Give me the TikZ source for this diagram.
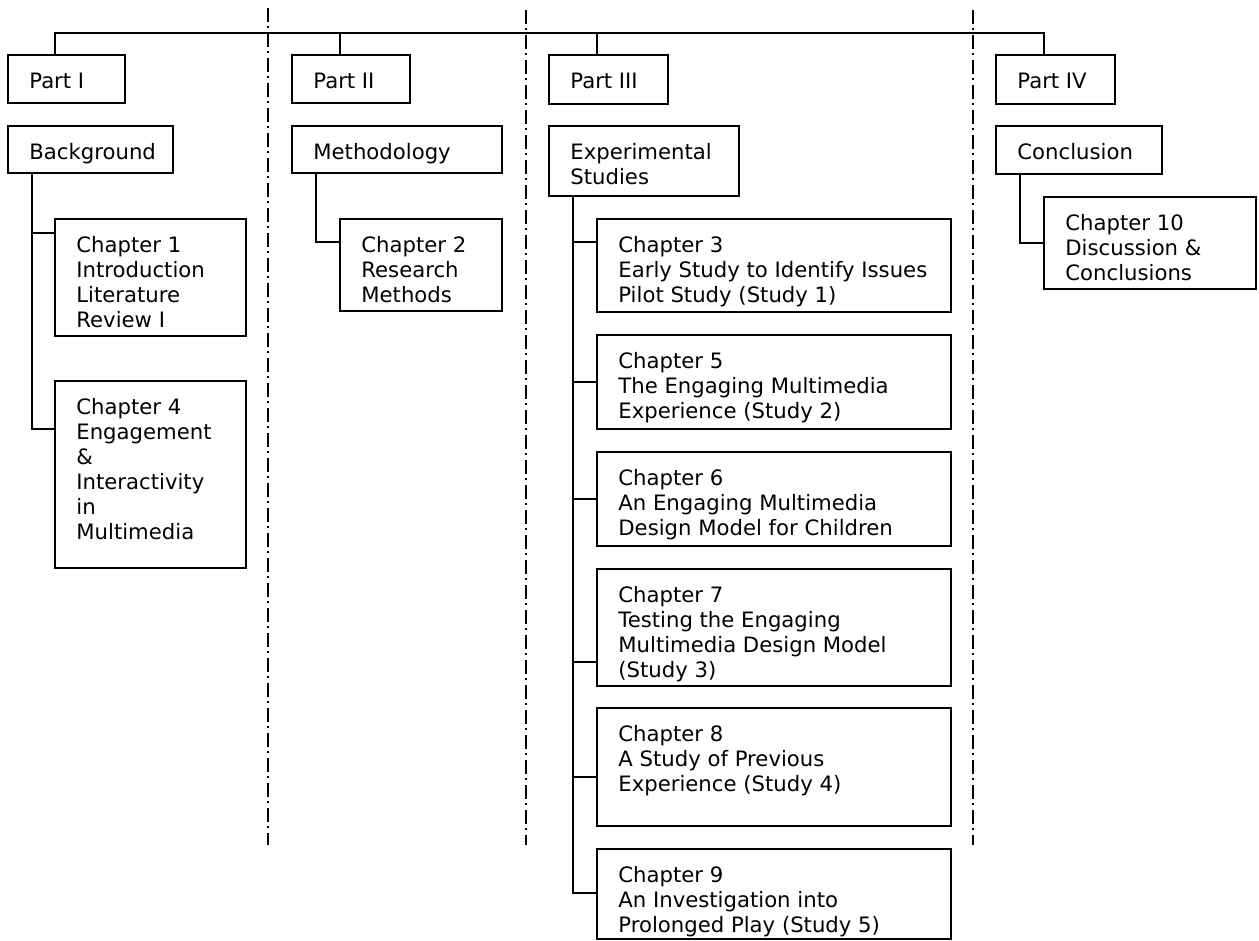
\documentclass[tikz,border=0pt]{standalone}
\usepackage{fontspec}
\setmainfont{DejaVu Sans}
% A framed box with its text set from the top-left corner:
% name, left, top, right, bottom, text
\newcommand\chapbox[6]{%
  \node[box, minimum width={(#4-#2)*0.5pt}, minimum height={(#5-#3)*0.5pt}] (#1) at (#2,#3) {};
  \node[txt] (#1-t) at ([xshift=10.5pt,yshift=-7.75pt]#1.north west) {\strut #6};
}
\begin{document}
\begin{tikzpicture}[x=0.5pt,y=-0.5pt,
  box/.style={draw=black, line width=1.4pt, rectangle, inner sep=0pt, outer sep=0pt, anchor=north west},
  txt/.style={inner sep=0pt, anchor=north west, align=left, font=\fontsize{10.6}{12.5}\selectfont},
  link/.style={line width=1.2pt},
  divider/.style={line width=1pt, dash pattern=on 7pt off 2pt on 1pt off 2.5pt}]

\fill[white] (0,0) rectangle (1259,941);
\useasboundingbox (0,0) rectangle (1259,941);

% dash-dot separators between the parts
\draw[divider] (268,8) -- (268,845);
\draw[divider] (526,10) -- (526,845);
\draw[divider] (973,10) -- (973,845);

% part headings
\chapbox{p1}{8}{55}{125}{103}{Part I}
\chapbox{p2}{292}{55}{410}{103}{Part II}
\chapbox{p3}{549}{55}{668}{104}{Part III}
\chapbox{p4}{996}{55}{1115}{104}{Part IV}

% part titles
\chapbox{bg}{8}{126}{173}{173}{Background}
\chapbox{me}{292}{126}{502}{173}{Methodology}
\chapbox{ex}{549}{126}{739}{196}{Experimental\\Studies}
\chapbox{co}{996}{126}{1162}{174}{Conclusion}

% chapters
\chapbox{c1}{55}{219}{246}{336}{Chapter 1\\Introduction\\Literature\\Review I}
\chapbox{c4}{55}{381}{246}{568}{Chapter 4\\Engagement\\\&\\Interactivity\\in\\Multimedia}
\chapbox{c2}{340}{219}{502}{311}{Chapter 2\\Research\\Methods}
\chapbox{c3}{597}{219}{951}{312}{Chapter 3\\Early Study to Identify Issues\\Pilot Study (Study 1)}
\chapbox{c5}{597}{335}{951}{429}{Chapter 5\\The Engaging Multimedia\\Experience (Study 2)}
\chapbox{c6}{597}{452}{951}{546}{Chapter 6\\An Engaging Multimedia\\Design Model for Children}
\chapbox{c7}{597}{569}{951}{686}{Chapter 7\\Testing the Engaging\\Multimedia Design Model\\(Study 3)}
\chapbox{c8}{597}{708}{951}{826}{Chapter 8\\A Study of Previous\\Experience (Study 4)}
\chapbox{c9}{597}{849}{951}{939}{Chapter 9\\An Investigation into\\Prolonged Play (Study 5)}
\chapbox{c10}{1044}{197}{1256}{289}{Chapter 10\\Discussion \&\\Conclusions}

% top bar joining the four parts
\coordinate (bar) at (0,33);
\coordinate (d1) at ([xshift=23.5pt]p1.north west);
\coordinate (d2) at ([xshift=24pt]p2.north west);
\coordinate (d3) at ([xshift=24pt]p3.north west);
\coordinate (d4) at ([xshift=24pt]p4.north west);
\draw[link] (d1) |- (bar -| d4) -- (d4);
\draw[link] (d2) -- (d2 |- bar);
\draw[link] (d3) -- (d3 |- bar);

% Part I tree
\coordinate (t1) at ([xshift=12pt]bg.south west);
\draw[link] (t1) |- (c4.west |- 0,429);
\draw[link] (c1.west |- 0,233) -- (t1 |- 0,233);

% Part II tree
\coordinate (t2) at ([xshift=12pt]me.south west);
\draw[link] (t2) |- (c2.west |- 0,242);

% Part III tree
\coordinate (t3) at ([xshift=12pt]ex.south west);
\draw[link] (t3) |- (c9.west |- 0,893);
\draw[link] (c3.west |- 0,242) -- (t3 |- 0,242);
\draw[link] (c5.west |- 0,382) -- (t3 |- 0,382);
\draw[link] (c6.west |- 0,499) -- (t3 |- 0,499);
\draw[link] (c7.west |- 0,662) -- (t3 |- 0,662);
\draw[link] (c8.west |- 0,777) -- (t3 |- 0,777);

% Part IV tree
\coordinate (t4) at ([xshift=12pt]co.south west);
\draw[link] (t4) |- (c10.west |- 0,243);

\end{tikzpicture}
\end{document}
